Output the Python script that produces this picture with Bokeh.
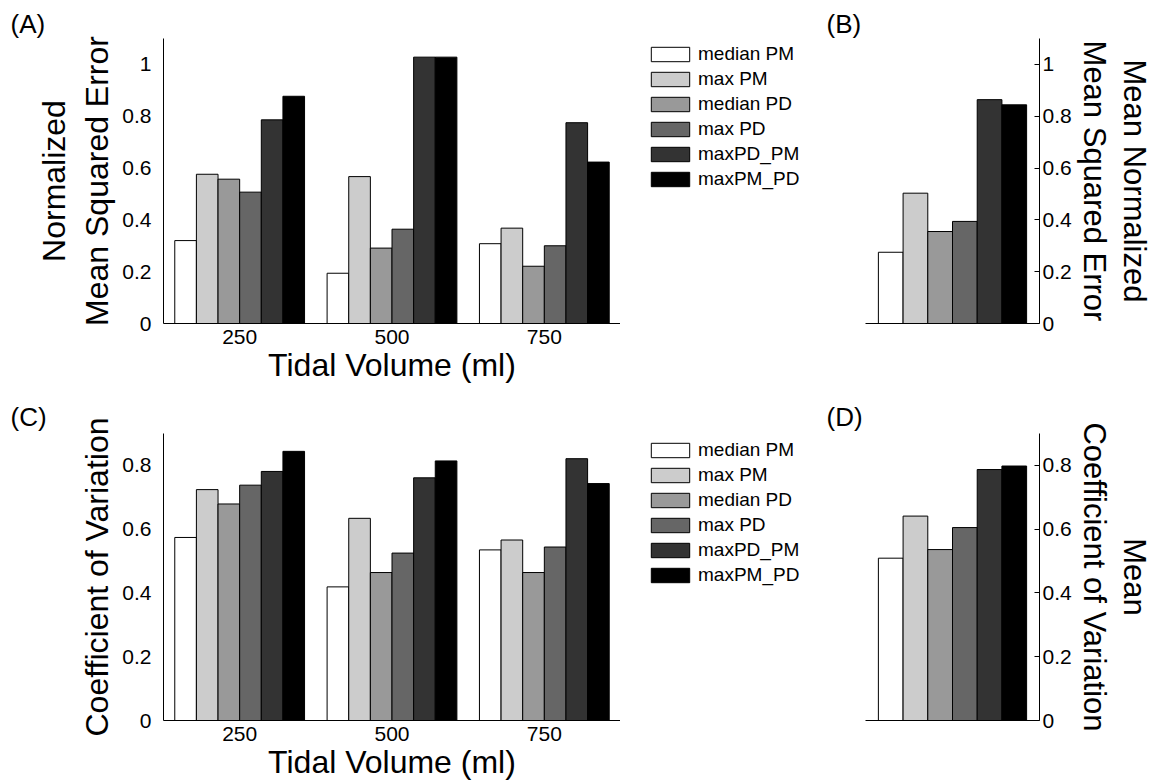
from bokeh.plotting import figure
from bokeh.models import (FactorRange, Range1d, Legend, LegendItem,
                          FixedTicker, CustomJSTickFormatter, ColumnDataSource)
from bokeh.transform import dodge
from bokeh.layouts import column, row
from bokeh.embed import file_html
from bokeh.resources import INLINE

# ---------------- data ----------------
tidal_volumes = ["250", "500", "750"]
series_names = ["median PM", "max PM", "median PD", "max PD", "maxPD_PM", "maxPM_PD"]
series_colors = ["#ffffff", "#cccccc", "#999999", "#666666", "#333333", "#000000"]

# (A) Normalized mean squared error per tidal volume
nmse_median_pm = [0.320, 0.194, 0.308]
nmse_max_pm = [0.576, 0.567, 0.368]
nmse_median_pd = [0.557, 0.291, 0.221]
nmse_max_pd = [0.507, 0.364, 0.300]
nmse_maxpd_pm = [0.786, 1.028, 0.775]
nmse_maxpm_pd = [0.877, 1.028, 0.623]

# (B) mean over tidal volumes
mean_nmse = [0.275, 0.503, 0.355, 0.394, 0.864, 0.844]

# (C) Coefficient of variation per tidal volume
cv_median_pm = [0.574, 0.419, 0.535]
cv_max_pm = [0.724, 0.634, 0.566]
cv_median_pd = [0.679, 0.464, 0.464]
cv_max_pd = [0.738, 0.525, 0.544]
cv_maxpd_pm = [0.781, 0.761, 0.821]
cv_maxpm_pd = [0.844, 0.814, 0.743]

# (D) mean over tidal volumes
mean_cv = [0.509, 0.641, 0.536, 0.605, 0.787, 0.798]

ticks_ab = [0, 0.2, 0.4, 0.6, 0.8, 1.0]
ticks_cd = [0, 0.2, 0.4, 0.6, 0.8]

# ---------------- style ----------------
FONT = "Liberation Sans"
TICK_FS = "21px"
LABEL_FS = "32px"
BAR_W = 0.142
keys = ["s0", "s1", "s2", "s3", "s4", "s5"]
fmt = CustomJSTickFormatter(code="return (Math.round(tick*10)/10).toString();")


def make_source(groups, values):
    data = {"g": groups}
    for k, v in zip(keys, values):
        data[k] = v
    return ColumnDataSource(data)


def base_style(p):
    p.outline_line_color = None
    p.xgrid.visible = False
    p.ygrid.visible = False
    p.background_fill_color = "white"
    p.border_fill_color = "white"
    for ax in list(p.xaxis) + list(p.yaxis):
        ax.axis_line_color = "black"
        ax.axis_line_width = 1
        ax.major_label_text_font = FONT
        ax.major_label_text_font_size = TICK_FS
        ax.major_label_text_color = "black"
        ax.axis_label_text_font = FONT
        ax.axis_label_text_font_size = LABEL_FS
        ax.axis_label_text_font_style = "normal"
        ax.axis_label_text_color = "black"
        ax.minor_tick_line_color = None
    p.xaxis.major_tick_line_color = None
    p.xaxis.major_label_standoff = 0
    p.xaxis.axis_label_standoff = 0


def set_letter(p, letter, offset, standoff, valign):
    p.title.text = letter
    p.title.align = "left"
    p.title.vertical_align = valign
    p.title.offset = offset
    p.title.standoff = standoff
    p.title.text_font = FONT
    p.title.text_font_size = "26px"
    p.title.text_font_style = "normal"
    p.title.text_color = "black"


def grouped_panel(src, groups, y_max, ticks, ylabel, xlabel, height,
                  border_top, border_bottom, side):
    if side == "left":
        p = figure(x_range=FactorRange(factors=groups, range_padding=0),
                   y_range=Range1d(0, y_max), width=620, height=height,
                   min_border_left=163, min_border_right=0,
                   min_border_top=border_top, min_border_bottom=border_bottom,
                   output_backend="svg", toolbar_location=None)
    else:
        p = figure(x_range=FactorRange(factors=groups, range_padding=0),
                   y_range=Range1d(0, y_max), width=354, height=height,
                   y_axis_location="right",
                   min_border_left=65, min_border_right=110,
                   min_border_top=border_top, min_border_bottom=border_bottom,
                   output_backend="svg", toolbar_location=None)
    for j, k in enumerate(keys):
        p.vbar(x=dodge("g", (j - 2.5) * BAR_W, range=p.x_range), top=k,
               width=BAR_W, source=src, fill_color=series_colors[j],
               line_color="black", line_width=1)
    base_style(p)
    p.yaxis.ticker = FixedTicker(ticks=ticks)
    p.yaxis.formatter = fmt
    p.yaxis.axis_label = ylabel
    p.xaxis.axis_label = xlabel
    if side == "left":
        p.yaxis.major_tick_line_color = None
        p.yaxis.major_label_standoff = 6
        p.yaxis.axis_label_standoff = 4
    else:
        p.yaxis.major_tick_in = 5
        p.yaxis.major_tick_out = 0
        p.yaxis.major_tick_line_color = "black"
        p.yaxis.major_label_standoff = 3
        p.yaxis.axis_label_standoff = 2
        p.yaxis.axis_label_text_font_size = "31px"
        p.yaxis.axis_label_text_line_height = 1.15
        p.xaxis.major_label_text_font_size = "0px"
    return p


def legend_panel(src, height, top, gap):
    # legend-only canvas: its renderers are hidden, only the legend is drawn
    p = figure(width=180, height=height, title=None,
               x_range=FactorRange(factors=[" "]), y_range=Range1d(2, 3),
               x_axis_type=None, y_axis_type=None,
               min_border_left=26 - gap, min_border_top=top, min_border_right=0,
               min_border_bottom=0,
               output_backend="svg", toolbar_location=None)
    p.outline_line_color = None
    p.xgrid.visible = False
    p.ygrid.visible = False
    items = []
    for j, (name, k) in enumerate(zip(series_names, keys)):
        r = p.vbar(x=dodge("g", (j - 2.5) * BAR_W, range=p.x_range), top=k,
                   width=BAR_W, source=src, fill_color=series_colors[j],
                   line_color="black", line_width=1)
        r.visible = False
        items.append(LegendItem(label=name, renderers=[r]))
    leg = Legend(items=items, location="top_left", margin=gap, padding=0,
                 glyph_width=48, glyph_height=18, label_height=18,
                 spacing=3, label_standoff=4, border_line_color=None,
                 background_fill_alpha=0, label_text_color="black",
                 label_text_font=FONT, label_text_font_size="19px")
    p.add_layout(leg, "center")
    return p


src_a = make_source(tidal_volumes, [nmse_median_pm, nmse_max_pm, nmse_median_pd,
                                    nmse_max_pd, nmse_maxpd_pm, nmse_maxpm_pd])
src_b = make_source([" "], [[v] for v in mean_nmse])
src_c = make_source(tidal_volumes, [cv_median_pm, cv_max_pm, cv_median_pd,
                                    cv_max_pd, cv_maxpd_pm, cv_maxpm_pd])
src_d = make_source([" "], [[v] for v in mean_cv])

pA = grouped_panel(src_a, tidal_volumes, 1.1, ticks_ab,
                   "Normalized\nMean Squared Error", "Tidal Volume (ml)",
                   390, 38, 67, "left")
set_letter(pA, "(A)", -153, 0, "bottom")
pLa = legend_panel(src_b, 390, 38, 5)
pB = grouped_panel(src_b, [" "], 1.1, ticks_ab,
                   "Mean Normalized\nMean Squared Error", "", 390, 38, 67, "right")
set_letter(pB, "(B)", -39, 0, "bottom")

pC = grouped_panel(src_c, tidal_volumes, 0.9, ticks_cd,
                   "Coefficient of Variation", "Tidal Volume (ml)",
                   392, 43, 62, "left")
set_letter(pC, "(C)", -153, 0, "top")
pLc = legend_panel(src_d, 392, 43, 6)
pD = grouped_panel(src_d, [" "], 0.9, ticks_cd,
                   "Mean\nCoefficient of Variation", "", 392, 43, 62, "right")
set_letter(pD, "(D)", -39, 0, "top")

layout = column(row(pA, pLa, pB), row(pC, pLc, pD))
open("out.html", "w").write(file_html(layout, INLINE))
